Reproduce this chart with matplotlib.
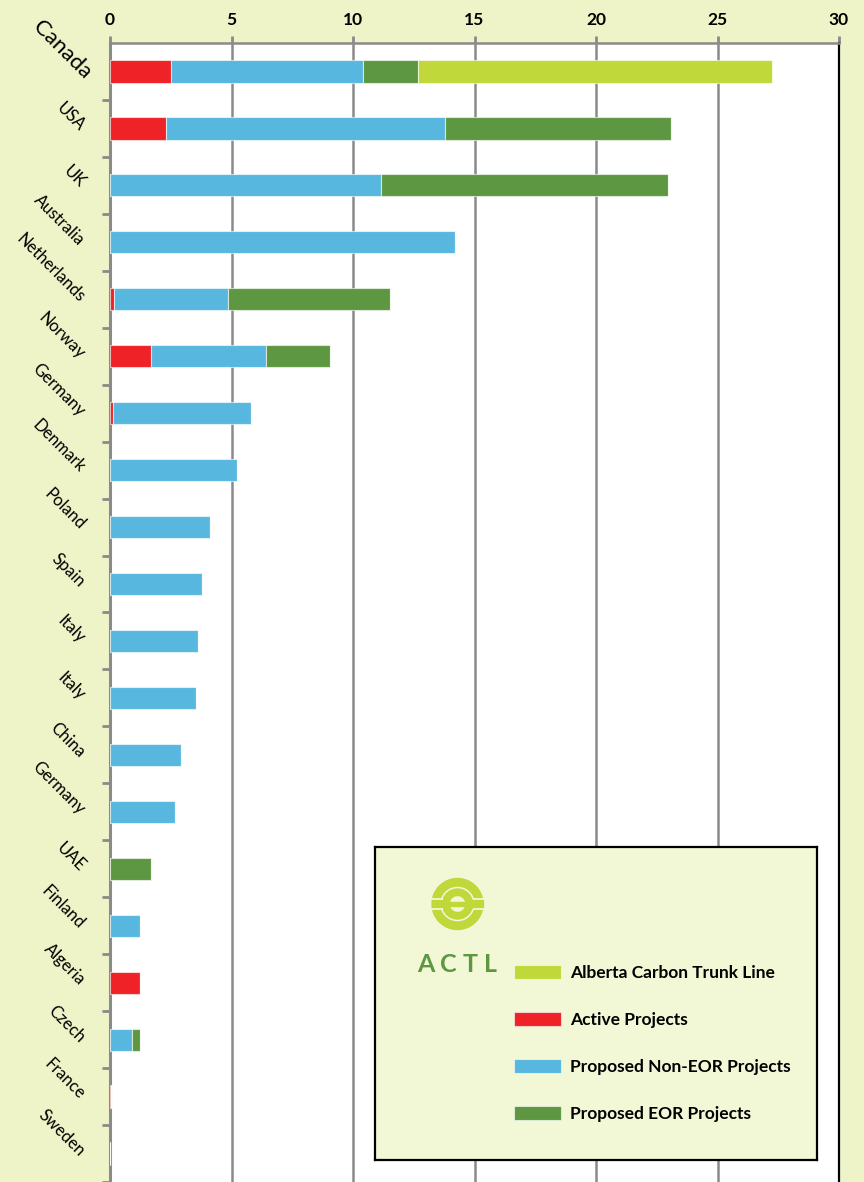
import numpy as np
import matplotlib
matplotlib.use("Agg")
import matplotlib.pyplot as plt
import matplotlib.transforms as mtransforms
from matplotlib.patches import Wedge, Rectangle

plt.rcParams['font.family'] = ['Lato', 'DejaVu Sans']

countries = ["Canada", "USA", "UK", "Australia", "Netherlands", "Norway", "Germany",
             "Denmark", "Poland", "Spain", "Italy", "Italy", "China", "Germany",
             "UAE", "Finland", "Algeria", "Czech", "France", "Sweden"]
active = [2.5, 2.3, 0, 0, 0.16, 1.69, 0.12, 0, 0, 0, 0, 0, 0, 0, 0, 0, 1.23, 0, 0.05, 0]
non_eor = [7.9, 11.49, 11.15, 14.2, 4.7, 4.73, 5.68, 5.23, 4.12, 3.79, 3.62, 3.54,
           2.92, 2.67, 0, 1.23, 0, 0.89, 0, 0]
eor = [2.27, 9.3, 11.81, 0, 6.66, 2.63, 0, 0, 0, 0, 0, 0, 0, 0, 1.69, 0, 0, 0.34, 0, 0]
actl = [14.57, 0, 0, 0, 0, 0, 0, 0, 0, 0, 0, 0, 0, 0, 0, 0, 0, 0, 0, 0]
x_ticks = [0, 5, 10, 15, 20, 25, 30]

RED = "#EE2227"
BLUE = "#58B7DE"
GREEN = "#5E9742"
LIME = "#C1D83A"
BG = "#EEF4C8"
LEG_BG = "#F2F7D6"
GRAY = "#8A8A8A"

W, H = 864, 1182
fig = plt.figure(figsize=(W / 100, H / 100), dpi=100, facecolor=BG)
ax = fig.add_axes([110 / W, 0.0, (839 - 110) / W, (H - 43) / H])

y = np.arange(len(countries))
bh = 0.39
a = np.array(active)
b = np.array(non_eor)
c = np.array(eor)
d = np.array(actl)
ek = dict(edgecolor=(1, 1, 1, 0.6), linewidth=0.8, zorder=3)
b_act = ax.barh(y, a, height=bh, color=RED, label="Active Projects", **ek)
b_non = ax.barh(y, b, left=a, height=bh, color=BLUE, label="Proposed Non-EOR Projects", **ek)
b_eor = ax.barh(y, c, left=a + b, height=bh, color=GREEN, label="Proposed EOR Projects", **ek)
b_actl = ax.barh(y, d, left=a + b + c, height=bh, color=LIME, label="Alberta Carbon Trunk Line", **ek)

ax.set_xlim(0, 30)
ax.set_ylim(len(countries) - 0.5, -0.5)
ax.set_facecolor("white")

ax.xaxis.tick_top()
ax.set_xticks(x_ticks)
ax.set_xticklabels([str(t) for t in x_ticks], fontsize=12.5, fontweight="bold")
ax.tick_params(axis="x", length=5, width=2, color=GRAY, pad=6)
ax.grid(axis="x", color=GRAY, linewidth=1.8, zorder=1)
ax.set_axisbelow(True)

ax.set_yticks(y)
ax.set_yticklabels(countries, fontsize=12, rotation=-45, ha="right", va="center",
                   rotation_mode="anchor")
ax.tick_params(axis="y", length=0, pad=20)
ax.set_yticks(np.arange(len(countries)) + 0.5, minor=True)
ax.tick_params(axis="y", which="minor", length=6, width=2, color=GRAY)

# Canada label is bigger and sits a little closer to the axis
can = ax.get_yticklabels()[0]
can.set_fontsize(16)
can.set_transform(can.get_transform() +
                  mtransforms.ScaledTranslation(6 / 100, -4 / 100, fig.dpi_scale_trans))

for s in ["left", "top"]:
    ax.spines[s].set_color(GRAY)
ax.spines["left"].set_linewidth(2.2)
ax.spines["top"].set_linewidth(1.8)
ax.spines["right"].set_color("black")
ax.spines["right"].set_linewidth(1.6)
ax.spines["bottom"].set_visible(False)

# legend box with logo
lx0, ly0, lx1, ly1 = 375, 847, 817, 1160
lax = fig.add_axes([lx0 / W, (H - ly1) / H, (lx1 - lx0) / W, (ly1 - ly0) / H])
lax.set_xlim(0, lx1 - lx0)
lax.set_ylim(ly1 - ly0, 0)
lax.set_facecolor(LEG_BG)
lax.set_xticks([])
lax.set_yticks([])
for s in lax.spines.values():
    s.set_color("black")
    s.set_linewidth(1.6)

# ACTL logo
cx, cy = 457.5 - lx0, 904 - ly0
lax.add_patch(Wedge((cx, cy), 25.5, 0, 360, width=7.5, color=LIME))
lax.add_patch(Wedge((cx, cy), 15, 0, 360, width=6.5, color=LIME))
lax.add_patch(Rectangle((cx - 25, cy - 4), 16, 8, color=LIME))
lax.add_patch(Rectangle((cx + 9, cy - 4), 16, 8, color=LIME))
lax.add_patch(Rectangle((cx - 9.5, cy - 2.2), 19, 4.4, color=LIME))
for yy in (cy - 5.2, cy + 5.2):
    lax.plot([cx - 27, cx - 15], [yy, yy], color=LEG_BG, lw=1.3, solid_capstyle="butt")
    lax.plot([cx + 15, cx + 27], [yy, yy], color=LEG_BG, lw=1.3, solid_capstyle="butt")
for ch, px in zip("ACTL", [426, 448, 470, 490]):
    lax.text(px - lx0, 965 - ly0, ch, color=GREEN, fontsize=18, fontweight="bold",
             ha="center", va="center")

fs = 12.5
fpx = fs * 100 / 72
leg = fig.legend(handles=[b_actl, b_act, b_non, b_eor], loc="upper left",
                 bbox_to_anchor=(514 / W, (H - 965) / H), frameon=False,
                 prop=dict(size=fs, weight="bold"), handlelength=47 / fpx,
                 handleheight=15 / fpx, handletextpad=9 / fpx, labelspacing=1.79,
                 borderpad=0, borderaxespad=0)

fig.savefig("out.png", dpi=100, facecolor=BG)
